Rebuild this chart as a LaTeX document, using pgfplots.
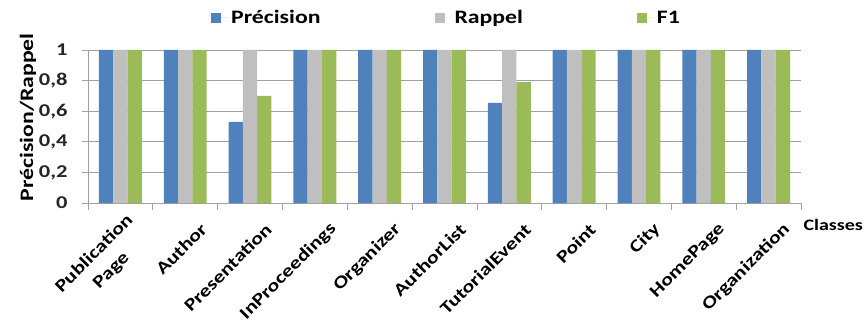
\documentclass[border=0pt]{standalone}
\usepackage{fontspec}
\setmainfont{Carlito}[FakeStretch=1.25]
\usepackage{pgfplots}
\pgfplotsset{compat=1.18}
\definecolor{cP}{HTML}{4F81BD}
\definecolor{cR}{HTML}{BFBFBF}
\definecolor{cF}{HTML}{9BBB59}
\definecolor{gridc}{HTML}{A0A0A0}
\begin{document}
\begin{tikzpicture}
\useasboundingbox (-88bp,-121bp) rectangle (776bp,203bp);
\begin{axis}[
  at={(0,0)}, anchor=south west,
  scale only axis, width=713bp, height=153bp,
  xmin=-0.5, xmax=10.5, ymin=0, ymax=1,
  ybar=0pt, bar width=14.3bp,
  axis x line*=bottom, axis y line*=left,
  axis line style={gridc,-},
  ymajorgrids, grid style={gridc, line width=0.8pt},
  ytick={0,0.2,0.4,0.6,0.8,1},
  /pgf/number format/use comma, /pgf/number format/fixed, /pgf/number format/precision=1,
  /pgf/number format/assume math mode=true,
  yticklabel style={font=\bfseries\fontsize{18bp}{21bp}\selectfont, text=black!85, xshift=-11bp},
  ytick style={gridc, line width=0.8pt},
  tick align=outside, major tick length=6bp,
  xtick={0,...,10},
  x tick style={draw=none},
  xticklabels={{Publication\\Page},Author,Presentation,InProceedings,Organizer,AuthorList,TutorialEvent,Point,City,HomePage,Organization},
  xticklabel style={font=\bfseries\fontsize{17.5bp}{24bp}\selectfont, align=center, xshift=21bp, yshift=-15bp, rotate=45, anchor=east},
  extra x ticks={-0.5,0.5,1.5,2.5,3.5,4.5,5.5,6.5,7.5,8.5,9.5,10.5},
  extra x tick labels={},
  extra x tick style={xmajorgrids=false, x tick style={draw=gridc, line width=0.8pt}, major tick length=7bp},
  ylabel={Précision/Rappel},
  ylabel style={at={(ticklabel cs:0.56)}, font=\bfseries\fontsize{19bp}{22bp}\selectfont, yshift=-4bp},
  xlabel={Classes},
  xlabel style={at={(rel axis cs:1,0)}, anchor=west, font=\bfseries\fontsize{16bp}{19bp}\selectfont, xshift=-1bp, yshift=-22bp},
  legend columns=3,
  legend style={at={(rel axis cs:0,1)}, anchor=west, xshift=120bp, yshift=32bp, draw=none, fill=none,
    font=\bfseries\fontsize{19bp}{22bp}\selectfont,
    /tikz/every even column/.append style={column sep=112bp}},
  legend image code/.code={\fill[#1] (0bp,-5bp) rectangle (10bp,5bp); \path (0bp,0bp) -- (18bp,0bp);},
]
\addplot[fill=cP, draw=none] coordinates {(0,1) (1,1) (2,0.53) (3,1) (4,1) (5,1) (6,0.655) (7,1) (8,1) (9,1) (10,1)};
\addplot[fill=cR, draw=none] coordinates {(0,1) (1,1) (2,1) (3,1) (4,1) (5,1) (6,1) (7,1) (8,1) (9,1) (10,1)};
\addplot[fill=cF, draw=none] coordinates {(0,1) (1,1) (2,0.70) (3,1) (4,1) (5,1) (6,0.79) (7,1) (8,1) (9,1) (10,1)};
\legend{Précision,Rappel,F1}
\end{axis}
\end{tikzpicture}
\end{document}
